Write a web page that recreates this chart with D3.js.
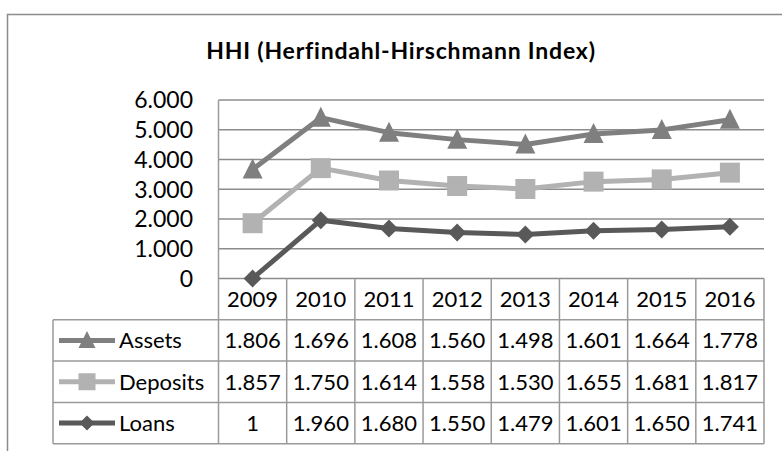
<!DOCTYPE html>
<html>
<head>
<meta charset="utf-8">
<script src="https://cdn.jsdelivr.net/npm/d3@7"></script>
<style>
  html, body { margin: 0; padding: 0; background: #fff; }
  #content { width: 782px; height: 451px; }
  text { font-family: Lato, "Open Sans", sans-serif; fill: #000; }
</style>
</head>
<body>
<div id="content"></div>
<script>
var width = 782;
var height = 451;

var years = ['2009', '2010', '2011', '2012', '2013', '2014', '2015', '2016'];
var assets = [1806, 1696, 1608, 1560, 1498, 1601, 1664, 1778];
var deposits = [1857, 1750, 1614, 1558, 1530, 1655, 1681, 1817];
var loans = [1, 1960, 1680, 1550, 1479, 1601, 1650, 1741];
var yTicks = [0, 1000, 2000, 3000, 4000, 5000, 6000];

// table rows top to bottom, lines are stacked from the bottom row up
var series = [
  { name: 'Assets', values: assets, color: '#7f7f7f', marker: 'triangle' },
  { name: 'Deposits', values: deposits, color: '#b2b2b2', marker: 'square' },
  { name: 'Loans', values: loans, color: '#595959', marker: 'diamond' }
];

var loc = d3.formatLocale({ decimal: ',', thousands: '.', grouping: [3], currency: ['', ''] });
var fmt = loc.format(',');

var svg = d3.select('#content').append('svg')
  .attr('width', width)
  .attr('height', height);

var plotLeft = 218.5, plotRight = 764, plotTop = 100, plotBottom = 278.5;
var rowH = 41.3;
var tableLeft = 53;

var x = d3.scaleBand().domain(years).range([plotLeft, plotRight]).padding(0);
var y = d3.scaleLinear().domain([0, 6000]).range([plotBottom, plotTop]);

// chart border (cut at right and bottom)
svg.append('path')
  .attr('d', 'M7.5,' + height + ' L7.5,14.5 L' + width + ',14.5')
  .attr('fill', 'none')
  .attr('stroke', '#8c8c8c')
  .attr('stroke-width', 1.5);

svg.append('text')
  .attr('x', 401)
  .attr('y', 59)
  .attr('text-anchor', 'middle')
  .attr('font-size', '23px')
  .attr('font-weight', 'bold')
  .attr('letter-spacing', '0.8px')
  .text('HHI (Herfindahl-Hirschmann Index)');

// gridlines
svg.append('g')
  .selectAll('line')
  .data(yTicks)
  .enter()
  .append('line')
  .attr('x1', plotLeft)
  .attr('x2', plotRight)
  .attr('y1', function(d){ return y(d); })
  .attr('y2', function(d){ return y(d); })
  .attr('stroke', '#8c8c8c')
  .attr('stroke-width', 1.5);

// y labels
svg.append('g')
  .selectAll('text')
  .data(yTicks)
  .enter()
  .append('text')
  .attr('x', 193)
  .attr('y', function(d){ return y(d); })
  .attr('dy', '0.36em')
  .attr('text-anchor', 'end')
  .attr('font-size', '23px')
  .text(function(d){ return fmt(d); });

// data table grid
var tableTop = plotBottom;
var tableBottom = tableTop + rowH * 4;
var grid = svg.append('g')
  .attr('stroke', '#9a9a9a')
  .attr('stroke-width', 1.5);
grid.append('line')
  .attr('x1', plotLeft).attr('x2', plotLeft)
  .attr('y1', plotTop).attr('y2', tableBottom);
years.forEach(function(yr){
  var xr = x(yr) + x.bandwidth();
  grid.append('line')
    .attr('x1', xr).attr('x2', xr)
    .attr('y1', tableTop).attr('y2', tableBottom);
});
for (var r = 1; r <= 4; r++) {
  grid.append('line')
    .attr('x1', tableLeft).attr('x2', plotRight)
    .attr('y1', tableTop + rowH * r).attr('y2', tableTop + rowH * r);
}
grid.append('line')
  .attr('x1', tableLeft).attr('x2', tableLeft)
  .attr('y1', tableTop + rowH).attr('y2', tableBottom);

// header years
svg.append('g')
  .selectAll('text')
  .data(years)
  .enter()
  .append('text')
  .attr('x', function(d){ return x(d) + x.bandwidth() / 2; })
  .attr('y', tableTop + rowH / 2)
  .attr('dy', '0.36em')
  .attr('text-anchor', 'middle')
  .attr('font-size', '22px')
  .text(function(d){ return d; });

var line = d3.line()
  .x(function(d){ return d.x; })
  .y(function(d){ return d.y; });

function drawMarker(g, type, cx, cy, color, s) {
  if (type === 'triangle') {
    g.append('path')
      .attr('d', 'M' + cx + ',' + (cy - s * 0.55) + ' L' + (cx + s / 2) + ',' + (cy + s * 0.45) + ' L' + (cx - s / 2) + ',' + (cy + s * 0.45) + ' Z')
      .attr('fill', color);
  } else if (type === 'square') {
    g.append('rect')
      .attr('x', cx - s / 2).attr('y', cy - s / 2)
      .attr('width', s).attr('height', s)
      .attr('fill', color);
  } else {
    var h = s * 0.5;
    g.append('path')
      .attr('d', 'M' + cx + ',' + (cy - h) + ' L' + (cx + h) + ',' + cy + ' L' + cx + ',' + (cy + h) + ' L' + (cx - h) + ',' + cy + ' Z')
      .attr('fill', color);
  }
}

// stacked cumulative values (Loans at bottom, then Deposits, then Assets)
var stackOrder = [2, 1, 0];
var cum = years.map(function(){ return 0; });
var stacked = [];
stackOrder.forEach(function(si){
  cum = cum.map(function(c, i){ return c + series[si].values[i]; });
  stacked[si] = cum.slice();
});

var sizes = { triangle: 20, square: 20, diamond: 18 };

series.forEach(function(s, si){
  var pts = years.map(function(yr, i){
    return { x: x(yr) + x.bandwidth() / 2, y: y(stacked[si][i]) };
  });
  var g = svg.append('g');
  g.append('path')
    .attr('d', line(pts))
    .attr('fill', 'none')
    .attr('stroke', s.color)
    .attr('stroke-width', 5)
    .attr('stroke-linejoin', 'round');
  pts.forEach(function(p){
    drawMarker(g, s.marker, p.x, p.y, s.color, sizes[s.marker]);
  });

  // table row
  var rowMid = tableTop + rowH * (si + 1) + rowH / 2;
  var lg = svg.append('g');
  lg.append('line')
    .attr('x1', 59).attr('x2', 115)
    .attr('y1', rowMid).attr('y2', rowMid)
    .attr('stroke', s.color)
    .attr('stroke-width', 5);
  drawMarker(lg, s.marker, 87, rowMid, s.color, sizes[s.marker] - 3);
  lg.append('text')
    .attr('x', 119)
    .attr('y', rowMid)
    .attr('dy', '0.36em')
    .attr('font-size', '22px')
    .text(s.name);
  lg.selectAll('text.val')
    .data(s.values)
    .enter()
    .append('text')
    .attr('class', 'val')
    .attr('x', function(d, i){ return x(years[i]) + x.bandwidth() / 2; })
    .attr('y', rowMid)
    .attr('dy', '0.36em')
    .attr('text-anchor', 'middle')
    .attr('font-size', '22px')
    .text(function(d){ return fmt(d); });
});
</script>
</body>
</html>
